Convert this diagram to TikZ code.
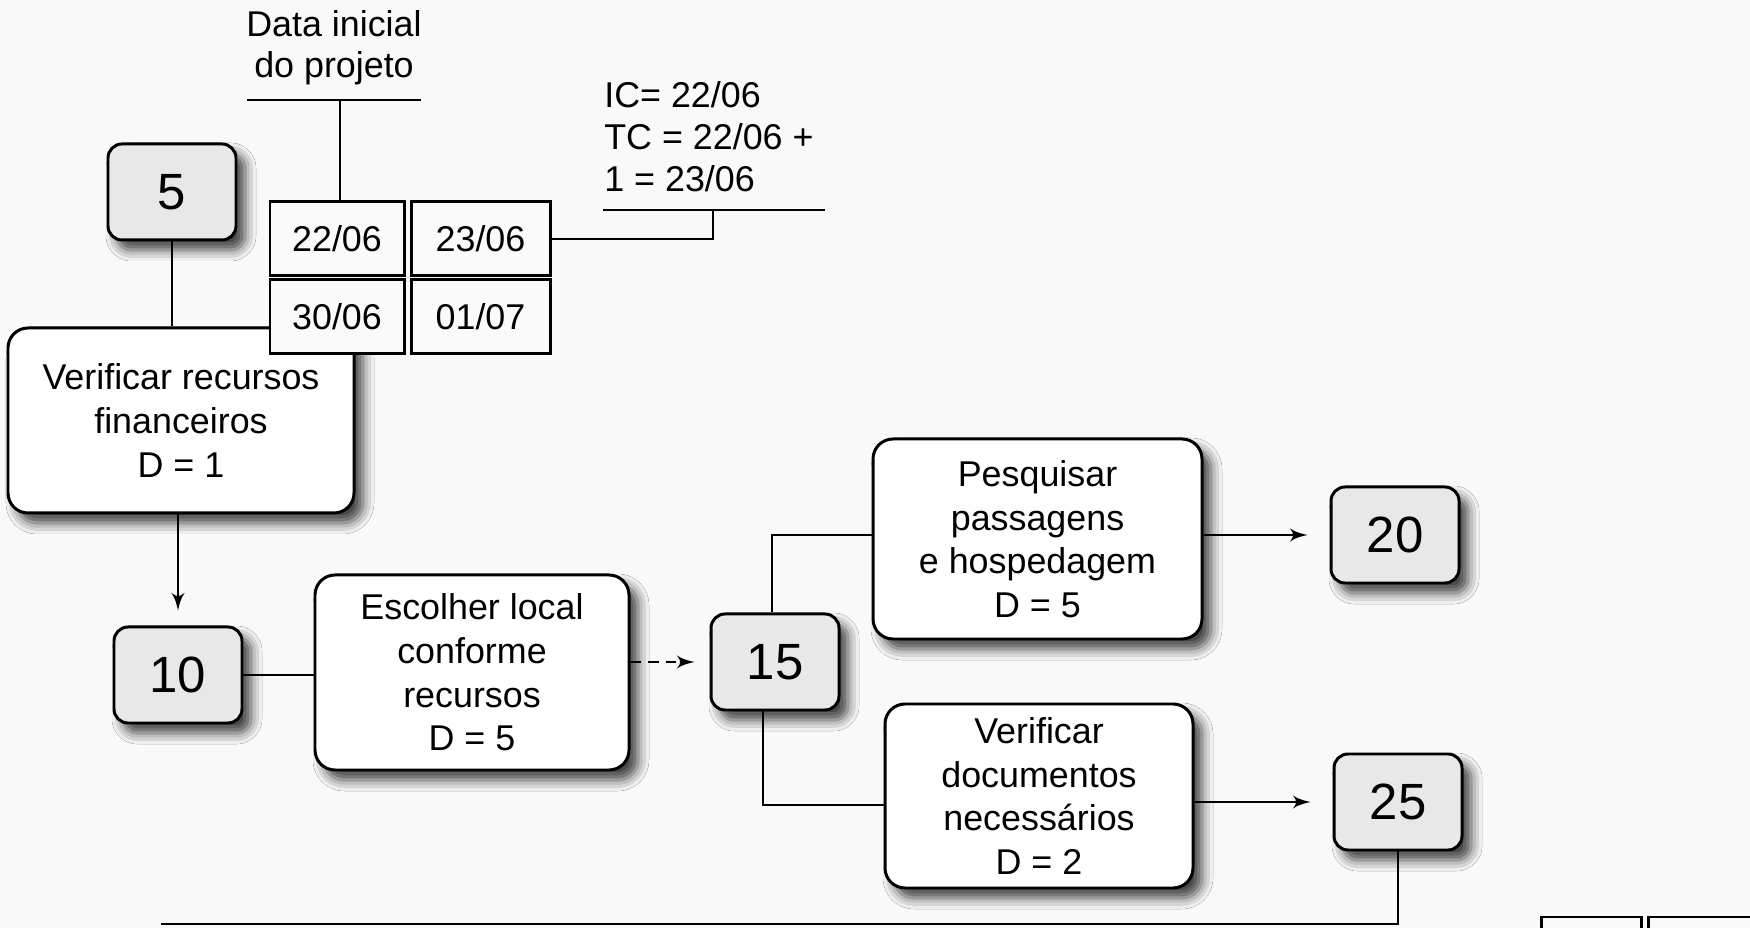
\documentclass[tikz,border=0pt]{standalone}
\usepackage{fontspec}
\setmainfont{Liberation Sans}
\usepackage{tikz}
\usetikzlibrary{arrows}
\usetikzlibrary{shadows.blur}
\tikzset{->/.style = {-latex', shorten >=0.15cm}}
\tikzset{evento/.style = {draw, rounded corners=0.14cm, fill=black!9, line width=0.85pt,
                          minimum width=1.28cm, minimum height=0.96cm,
                          font=\fontsize{14.5}{16}\selectfont,
                          blur shadow={shadow xshift=0.09cm, shadow yshift=-0.1cm,
                                       shadow blur radius=0.11cm, shadow opacity=75}}}
\tikzset{tarefa/.style = {draw, rounded corners=0.2cm, fill=white, line width=0.85pt,
                          align=center, font=\fontsize{10.2}{12.4}\selectfont,
                          blur shadow={shadow xshift=0.09cm, shadow yshift=-0.1cm,
                                       shadow blur radius=0.11cm, shadow opacity=75}}}
\tikzset{celula/.style = {draw, fill=black!2, line width=0.85pt, minimum height=0.74cm,
                          font=\fontsize{10.2}{12}\selectfont}}
\definecolor{fundo}{rgb}{0.975, 0.975, 0.975}

\begin{document}
\begin{tikzpicture}[line width=0.75pt]
    \fill [fundo] (0, 0) rectangle (17.5, -9.28);
    \useasboundingbox (0, 0) rectangle (17.5, -9.28);

    \node [align=center, font=\fontsize{10.2}{11.6}\selectfont] (dl) at (3.34, -0.48) {Data inicial\\do projeto};
    \coordinate (dlA) at (2.47, -1.00);
    \coordinate (dlB) at (4.21, -1.00);
    \coordinate (dlC) at (3.40, -1.00);
    \node [right, align=left, inner sep=0pt, font=\fontsize{10.2}{12}\selectfont] (ic) at (6.03, -1.37) {IC= 22/06\\TC = 22/06 +\\1 = 23/06};
    \coordinate (icA) at (6.03, -2.10);
    \coordinate (icB) at (8.25, -2.10);
    \coordinate (icC) at (7.13, -2.10);

    \node [evento] (n5) at (1.72, -1.92) {5};
    \node [tarefa, minimum width=3.46cm, minimum height=1.85cm] (t1) at (1.81, -4.205) {Verificar recursos\\financeiros\\D = 1};
    \node [celula, minimum width=1.34cm] (c1) at (3.37, -2.39) {22/06};
    \node [celula, minimum width=1.39cm] (c2) at (4.805, -2.39) {23/06};
    \node [celula, minimum width=1.34cm] (c3) at (3.37, -3.17) {30/06};
    \node [celula, minimum width=1.39cm] (c4) at (4.805, -3.17) {01/07};

    \node [evento] (n10) at (1.78, -6.75) {10};
    \node [tarefa, minimum width=3.14cm, minimum height=1.95cm] (t2) at (4.72, -6.725) {Escolher local\\conforme\\recursos\\D = 5};
    \node [evento] (n15) at (7.75, -6.62) {15};
    \node [tarefa, minimum width=3.29cm, minimum height=2.0cm] (t3) at (10.375, -5.39) {Pesquisar\\passagens\\e hospedagem\\D = 5};
    \node [tarefa, minimum width=3.08cm, minimum height=1.84cm] (t4) at (10.39, -7.96) {Verificar\\documentos\\necessários\\D = 2};
    \node [evento] (n20) at (13.95, -5.35) {20};
    \node [evento] (n25) at (13.98, -8.02) {25};
    \node [celula, minimum width=1.0cm] (c5) at (15.91, -9.54) {};
    \node [celula, minimum width=1.3cm] (c6) at (17.13, -9.54) {};
    \coordinate (bot) at (1.61, -9.24);

    \draw (dlA) -- (dlB);
    \draw (dlC) -- (dlC |- c1.north);
    \draw (icA) -- (icB);
    \draw (c2.east) -| (icC);
    \draw (n5) -- (n5 |- t1.north);
    \draw [->] (t1.south -| n10) -- (n10.north);
    \draw (n10.east) -- (n10.east -| t2.west);
    \draw [->, densely dashed] (t2.east |- n15) -- (n15.west);
    \draw ([xshift=-0.03cm]n15.north) |- ([yshift=0.04cm]t3.west);
    \draw ([xshift=-0.12cm]n15.south) |- ([yshift=-0.09cm]t4.west);
    \draw [->, shorten >=0.22cm] (t3.east |- n20) -- (n20.west);
    \draw [->, shorten >=0.22cm] (t4.east |- n25) -- (n25.west);
    \draw (n25.south) |- (bot);
\end{tikzpicture}
\end{document}
